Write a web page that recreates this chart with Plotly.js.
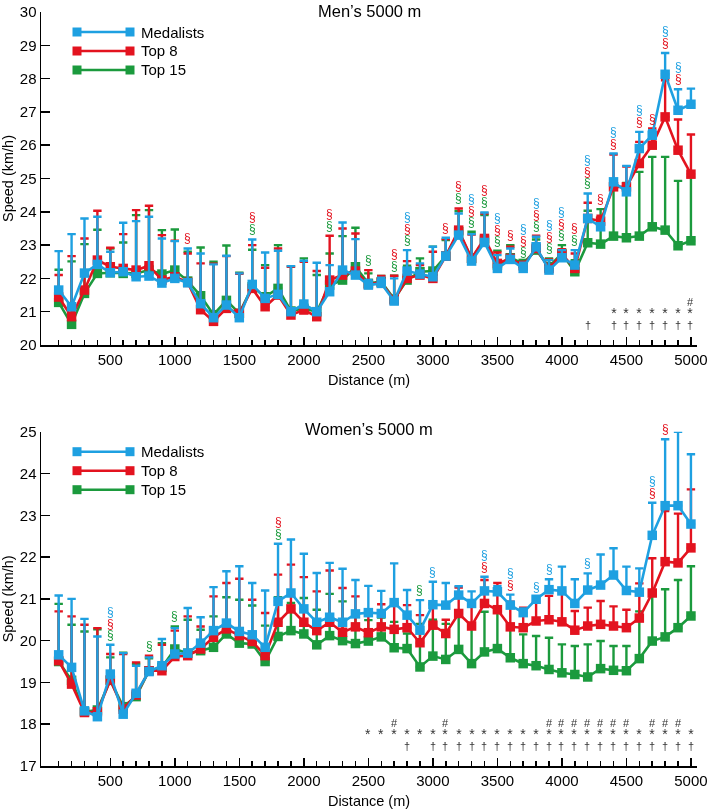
<!DOCTYPE html>
<html><head><meta charset="utf-8">
<script src="https://cdn.plot.ly/plotly-3.0.1.min.js"></script>
<style>html,body{margin:0;padding:0;background:#fff}#chart{width:709px;height:809px}
#chart svg.main-svg{will-change:transform}</style>
</head><body><div id="chart"></div>
<script>
const distance = [100,200,300,400,500,600,700,800,900,1000,1100,1200,1300,1400,1500,1600,1700,1800,1900,2000,2100,2200,2300,2400,2500,2600,2700,2800,2900,3000,3100,3200,3300,3400,3500,3600,3700,3800,3900,4000,4100,4200,4300,4400,4500,4600,4700,4800,4900,5000];
const xTickLabels = [500,1000,1500,2000,2500,3000,3500,4000,4500,5000];
const seriesNames = ['Medalists','Top 8','Top 15'];

// Men's 5000 m
const menMedalists = [21.65,21.15,22.16,22.42,22.17,22.2,22.05,22.07,21.86,22.0,21.87,21.24,20.82,21.2,20.82,21.82,21.4,21.52,21.0,21.23,21.0,21.6,22.25,22.1,21.8,21.85,21.32,22.22,22.13,22.05,22.67,23.3,22.52,23.08,22.3,22.57,22.3,22.95,22.25,22.62,22.4,23.8,23.55,24.9,24.6,25.9,26.3,28.13,27.05,27.23];
const menMedalistsUpper = [22.82,23.33,23.8,23.85,22.8,23.67,23.72,23.85,23.2,23.12,22.9,22.75,22.42,22.68,22.15,23.17,22.78,22.83,22.37,22.53,22.47,22.4,23.68,23.18,21.95,22.02,22.0,22.85,22.45,22.95,23.22,23.95,23.33,23.98,22.7,22.9,22.47,23.25,22.55,22.85,22.85,24.55,23.65,25.75,25.38,26.4,26.45,28.77,27.68,27.7];
const menTop8 = [21.44,20.85,21.65,22.55,22.35,22.3,22.25,22.38,21.95,22.05,21.88,21.06,20.71,21.1,20.95,21.7,21.15,21.5,20.9,21.05,20.85,21.95,22.1,22.22,21.82,21.88,21.35,22.0,22.1,22.0,22.67,23.45,22.6,23.2,22.45,22.6,22.38,22.9,22.3,22.72,22.3,23.8,23.72,24.75,24.75,25.45,26.0,26.85,25.85,25.13];
const menTop8Upper = [22.1,22.67,23.2,24.03,22.92,23.33,24.05,24.18,23.3,23.13,22.75,22.45,22.44,22.67,22.14,23.0,22.32,22.9,22.35,22.5,22.22,23.28,23.5,23.35,22.25,22.07,22.08,22.52,22.4,22.8,23.18,24.1,23.32,23.95,22.78,22.95,22.5,23.28,22.57,22.88,22.75,24.27,23.88,25.72,25.36,26.1,26.5,27.95,26.77,26.32];
const menTop15 = [21.28,20.62,21.55,22.15,22.17,22.15,22.15,22.25,22.13,22.25,21.92,21.48,20.91,21.34,20.95,21.75,21.45,21.7,21.02,21.1,21.0,21.8,21.95,22.35,21.85,21.9,21.38,21.95,22.2,22.22,22.67,23.4,22.6,23.15,22.4,22.62,22.45,22.85,22.35,22.75,22.2,23.07,23.03,23.27,23.22,23.27,23.55,23.45,22.98,23.13];
const menTop15Upper = [22.26,22.51,23.03,23.46,22.9,23.08,23.9,24.05,23.45,23.47,22.8,22.93,22.5,22.99,22.17,22.86,22.4,23.0,22.36,22.6,22.1,22.75,23.27,23.52,22.15,22.07,22.08,22.38,22.6,22.95,23.15,24.02,23.4,23.9,22.83,23.0,22.5,23.17,22.6,23.0,22.55,24.03,24.08,24.9,24.87,25.2,25.65,25.65,24.93,25.05];

// Women's 5000 m
const womenMedalists = [19.66,19.36,18.32,18.18,19.2,18.24,18.74,19.26,19.4,19.68,19.7,19.94,20.24,20.42,20.22,20.14,19.84,20.94,21.14,20.76,20.44,20.56,20.44,20.64,20.67,20.65,20.91,20.61,20.25,20.86,20.85,21.09,20.89,21.19,21.17,20.85,20.67,20.99,21.22,21.19,20.89,21.21,21.33,21.57,21.2,21.16,22.52,23.23,23.23,22.79];
const womenMedalistsUpper = [21.08,21.0,20.52,20.1,19.9,19.7,19.4,19.6,20.04,20.3,20.78,20.56,21.28,21.66,21.78,21.38,21.2,22.32,22.42,22.08,21.62,21.86,21.72,21.45,21.31,21.19,21.85,21.21,20.97,21.41,21.38,21.3,21.18,21.53,21.3,21.1,20.77,21.05,21.47,21.77,21.47,21.61,22.06,22.21,21.77,21.73,23.3,24.82,25.0,24.46];
const womenTop8 = [19.52,18.96,18.28,18.3,19.06,18.36,18.7,19.28,19.28,19.62,19.64,19.8,20.08,20.28,20.12,19.98,19.64,20.44,20.76,20.44,20.24,20.44,20.2,20.33,20.19,20.33,20.27,20.31,19.95,20.37,20.17,20.65,20.35,20.89,20.74,20.33,20.31,20.47,20.5,20.45,20.25,20.35,20.39,20.35,20.31,20.54,21.14,21.89,21.86,22.22];
const womenTop8Upper = [20.7,20.58,20.38,20.3,19.68,19.68,19.48,19.64,19.9,20.24,20.58,20.34,21.06,21.38,21.48,20.98,20.66,21.58,21.82,21.52,21.18,21.68,21.26,21.06,20.71,20.87,20.89,20.85,20.61,20.89,20.5,21.27,20.97,21.45,21.38,20.93,20.79,20.93,21.07,21.15,20.71,20.79,20.95,20.82,20.74,21.37,21.97,23.1,23.04,23.62];
const womenTop15 = [19.5,19.05,18.3,18.34,19.05,18.42,18.66,19.28,19.36,19.8,19.7,19.76,19.84,20.16,19.94,19.92,19.5,20.1,20.24,20.16,19.9,20.12,20.0,19.93,19.99,20.09,19.83,19.81,19.37,19.63,19.55,19.79,19.45,19.73,19.81,19.59,19.45,19.4,19.31,19.23,19.19,19.13,19.33,19.29,19.28,19.57,19.99,20.09,20.31,20.59];
const womenTop15Upper = [20.88,20.38,20.22,20.27,19.6,19.71,19.44,19.58,19.94,20.34,20.5,20.26,20.58,21.04,20.98,20.84,20.36,21.04,20.9,21.02,20.74,21.12,20.94,20.6,20.49,20.55,20.45,20.17,20.4,20.5,20.4,20.73,20.3,20.69,20.75,20.39,20.15,20.11,20.07,19.91,19.87,19.91,19.99,19.87,19.87,20.7,21.14,21.23,21.45,21.78];

// Significance markers (§) per group
const menSigMedalists = [2800,3300,3500,3700,3800,3900,4000,4200,4400,4600,4800,4900];
const menSigTop8 = [1100,1600,2200,2700,2800,3100,3200,3300,3400,3500,3600,3700,3800,3900,4000,4100,4200,4300,4400,4600,4700,4800,4900];
const menSigTop15 = [1600,2200,2500,2700,2800,3200,3300,3400,3500,3700,3800,3900,4000,4100,4200];
const womenSigMedalists = [500,3000,3400,3600,3800,3900,4200,4700];
const womenSigTop8 = [500,1800,3400,3600,4700,4800];
const womenSigTop15 = [500,800,1000,1800,2900];

// Bottom rows (#, *, †)
const menHash = [5000];
const menStar = [4400,4500,4600,4700,4800,4900,5000];
const menDagger = [4200,4400,4500,4600,4700,4800,4900,5000];
const womenHash = [2700,3100,3900,4000,4100,4200,4300,4400,4500,4700,4800,4900];
const womenStar = [2500,2600,2700,2800,2900,3000,3100,3200,3300,3400,3500,3600,3700,3800,3900,4000,4100,4200,4300,4400,4500,4600,4700,4800,4900,5000];
const womenDagger = [2800,3000,3100,3200,3300,3400,3500,3600,3700,3800,3900,4000,4100,4200,4300,4400,4500,4600,4700,4800,4900,5000];

const BLUE = '#1ea0e1', RED = '#e3131f', GREEN = '#1b9a3d', SYM = '#333333';
const FONT = 'Liberation Sans, Arial, Helvetica, sans-serif';

function trace(y, upper, color, xa, ya, name) {
  return {
    type: 'scatter', mode: 'lines+markers', x: distance, y: y, name: name,
    xaxis: xa, yaxis: ya, showlegend: false, cliponaxis: false,
    line: {color: color, width: 2.6},
    marker: {symbol: 'square', size: 9.5, color: color},
    error_y: {type: 'data', symmetric: false, array: upper.map((u, i) => +(u - y[i]).toFixed(3)),
      arrayminus: y.map(() => 0), color: color, thickness: 2.4, width: 4.2}
  };
}

const data = [
  trace(menTop15, menTop15Upper, GREEN, 'x', 'y', seriesNames[2]),
  trace(menTop8, menTop8Upper, RED, 'x', 'y', seriesNames[1]),
  trace(menMedalists, menMedalistsUpper, BLUE, 'x', 'y', seriesNames[0]),
  trace(womenTop15, womenTop15Upper, GREEN, 'x2', 'y2', seriesNames[2]),
  trace(womenTop8, womenTop8Upper, RED, 'x2', 'y2', seriesNames[1]),
  trace(womenMedalists, womenMedalistsUpper, BLUE, 'x2', 'y2', seriesNames[0])
];

const W = 709, H = 809, ML = 41, MR = 12, MT = 12, MB = 43;
const PW = W - ML - MR, PH = H - MT - MB;
const px = x => (x - ML) / PW;
const py = y => (H - MB - y) / PH;

const annotations = [];
const shapes = [];

// one stacked annotation per distance: lines top->bottom = Medalists, Top 8, Top 15 (only those present)
function sig(sets, uppers, xref, yref) {
  distance.forEach((d, i) => {
    const top = Math.max(...uppers.map(u => u[i]));
    const lines = [];
    sets.forEach(s => { if (s.list.includes(d)) lines.push('<span style="color:' + s.color + ';font-size:12px">§</span>'); });
    if (!lines.length) return;
    annotations.push({x: d, y: top, xref: xref, yref: yref, text: lines.join('<br>'), showarrow: false,
      font: {family: FONT, size: 8.9, color: '#000'}, xanchor: 'center', yanchor: 'bottom',
      yshift: 2, borderpad: 0});
  });
}
sig([{list: menSigMedalists, color: BLUE}, {list: menSigTop8, color: RED}, {list: menSigTop15, color: GREEN}],
    [menMedalistsUpper, menTop8Upper, menTop15Upper], 'x', 'y');
sig([{list: womenSigMedalists, color: BLUE}, {list: womenSigTop8, color: RED}, {list: womenSigTop15, color: GREEN}],
    [womenMedalistsUpper, womenTop8Upper, womenTop15Upper], 'x2', 'y2');

// one 3-line annotation per distance for the #, *, † rows
function rows(hash, star, dagger, base, xref, yref) {
  distance.forEach(d => {
    const h = hash.includes(d), s = star.includes(d), g = dagger.includes(d);
    if (!h && !s && !g) return;
    const txt = [h ? '#' : '&nbsp;', s ? '<span style="font-size:14px">*</span>' : '&nbsp;', g ? '†' : '&nbsp;'];
    annotations.push({x: d, y: base, xref: xref, yref: yref,
      text: '<span style="font-size:11px">' + txt.join('<br>') + '</span>', showarrow: false,
      font: {family: FONT, size: 9, color: SYM}, xanchor: 'center', yanchor: 'middle', yshift: 32, borderpad: 0});
  });
}
rows(menHash, menStar, menDagger, 20, 'x', 'y');
rows(womenHash, womenStar, womenDagger, 17, 'x2', 'y2');

// Legends
function legend(topPx) {
  const items = [[seriesNames[0], BLUE], [seriesNames[1], RED], [seriesNames[2], GREEN]];
  items.forEach((it, j) => {
    const yy = topPx + 20 + 19 * j;
    shapes.push({type: 'line', xref: 'paper', yref: 'paper', x0: px(77), x1: px(130), y0: py(yy), y1: py(yy),
      line: {color: it[1], width: 2.6}});
    [77, 130].forEach(cx => shapes.push({type: 'rect', xref: 'paper', yref: 'paper',
      x0: px(cx - 4.5), x1: px(cx + 4.5), y0: py(yy - 4.5), y1: py(yy + 4.5),
      fillcolor: it[1], line: {width: 0}}));
    annotations.push({xref: 'paper', yref: 'paper', x: px(139), y: py(yy), text: it[0], showarrow: false,
      xanchor: 'left', yanchor: 'middle', font: {family: FONT, size: 15, color: '#000'}});
  });
}
legend(12);
legend(431.7);

annotations.push({xref: 'paper', yref: 'paper', x: 0.5, y: py(11), text: 'Men’s 5000 m', showarrow: false,
  xanchor: 'center', yanchor: 'middle', font: {family: FONT, size: 16.5, color: '#000'}});
annotations.push({xref: 'paper', yref: 'paper', x: 0.5, y: py(429), text: 'Women’s 5000 m', showarrow: false,
  xanchor: 'center', yanchor: 'middle', font: {family: FONT, size: 16.5, color: '#000'}});

function xAxis(anchor) {
  return {anchor: anchor, domain: [0, 1], range: [-37, 5047], tickmode: 'array', tickvals: xTickLabels,
    ticks: 'inside', ticklen: 8, tickwidth: 1.5, tickcolor: '#000', showline: true, linewidth: 1.5,
    linecolor: '#000', showgrid: false, zeroline: false,
    minor: {tickmode: 'array', tickvals: distance, ticks: 'inside', ticklen: 5, tickwidth: 1.5, tickcolor: '#000', showgrid: false},
    tickfont: {family: FONT, size: 15, color: '#000'},
    title: {text: 'Distance (m)', font: {family: FONT, size: 14.5, color: '#000'}, standoff: 8}};
}
function yAxis(anchor, dom, lo, hi) {
  return {anchor: anchor, domain: dom, range: [lo, hi], tick0: lo, dtick: 1, ticks: 'inside', ticklen: 9,
    tickwidth: 1.5, tickcolor: '#000', showline: true, linewidth: 1.5, linecolor: '#000',
    showgrid: false, zeroline: false, tickfont: {family: FONT, size: 15, color: '#000'},
    title: {text: 'Speed (km/h)', font: {family: FONT, size: 14.5, color: '#000'}, standoff: 4}};
}

const layout = {
  width: W, height: H, margin: {l: ML, r: MR, t: MT, b: MB},
  paper_bgcolor: '#fff', plot_bgcolor: '#fff', showlegend: false,
  font: {family: FONT, size: 14, color: '#000'},
  xaxis: xAxis('y'), yaxis: yAxis('x', [py(345), 1], 20, 30),
  xaxis2: xAxis('y2'), yaxis2: yAxis('x2', [0, py(431.7)], 17, 25),
  annotations: annotations, shapes: shapes
};

Plotly.newPlot('chart', data, layout, {displayModeBar: false, staticPlot: true});
</script></body></html>
